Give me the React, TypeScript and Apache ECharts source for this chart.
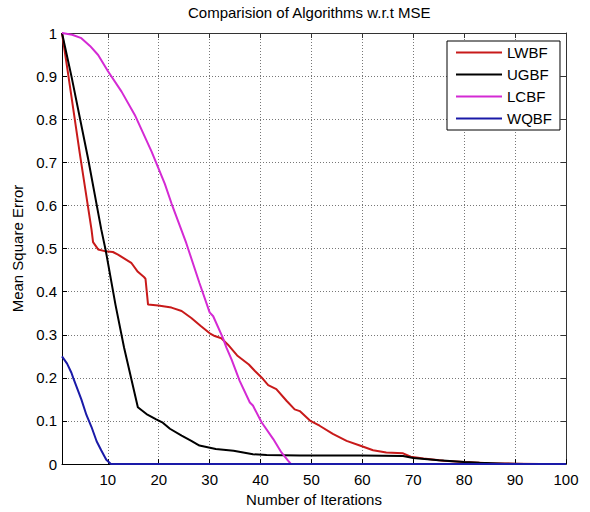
import React, { useEffect, useRef } from "react";
import * as echarts from "echarts";

const titleText = "Comparision of Algorithms w.r.t MSE";
const xName = "Number of Iterations";
const yName = "Mean Square Error";
const seriesNames = ["LWBF", "UGBF", "LCBF", "WQBF"];
const seriesColors = ["#c81a1a", "#000000", "#d42ad4", "#1a1aa8"];

const xMin = 1;
const xMax = 100;
const yMin = 0;
const yMax = 1;

// LWBF (red)
const lwbf: [number, number][] = [
  [1, 1], [2.2, 0.905], [4.5, 0.72], [6.8, 0.544], [7.1, 0.515], [8.1, 0.498],
  [9.4, 0.494], [11, 0.492], [12, 0.486], [14.6, 0.467], [15.9, 0.446], [17.1, 0.434],
  [17.4, 0.43], [17.9, 0.37], [19.9, 0.368], [22.5, 0.363], [24.5, 0.355], [26.4, 0.339],
  [28.2, 0.321], [30.2, 0.302], [31, 0.297], [32.3, 0.292], [33.6, 0.277], [35.4, 0.252],
  [37.7, 0.231], [38.9, 0.216], [40.2, 0.201], [41.5, 0.183], [43.1, 0.174], [45.1, 0.147],
  [46.7, 0.127], [47.7, 0.123], [49.7, 0.101], [51.6, 0.089], [54.2, 0.07], [56.9, 0.054],
  [59.5, 0.043], [62.1, 0.032], [64.7, 0.027], [68, 0.025], [69.5, 0.017], [72, 0.013],
  [76, 0.008], [80, 0.005], [85, 0.002], [90, 0.001], [95, 0], [100, 0],
];

// UGBF (black)
const ugbf: [number, number][] = [
  [1, 1], [2.85, 0.9], [6.1, 0.71], [8.7, 0.545], [9.6, 0.495], [11.5, 0.37],
  [13.2, 0.27], [15.9, 0.132], [17.6, 0.116], [19.5, 0.104], [20.8, 0.096],
  [22.2, 0.082], [24.5, 0.066], [26.4, 0.054], [28, 0.043], [31.2, 0.035],
  [34.7, 0.031], [38.5, 0.023], [41.2, 0.021], [47.7, 0.02], [60, 0.02], [68, 0.019],
  [70, 0.014], [75, 0.009], [80, 0.005], [83, 0.003], [88, 0.001], [92, 0], [100, 0],
];

// LCBF (magenta)
const lcbf: [number, number][] = [
  [1, 1], [3, 0.996], [4.8, 0.988], [6.5, 0.97], [8.1, 0.949], [10, 0.912],
  [12.7, 0.864], [15.3, 0.81], [18.6, 0.725], [21.2, 0.65], [22.5, 0.605],
  [25.4, 0.513], [28, 0.42], [30, 0.352], [30.7, 0.343], [32.6, 0.293], [33.3, 0.27],
  [34.3, 0.243], [35.9, 0.193], [37.9, 0.143], [38.5, 0.136], [40.2, 0.097],
  [42.5, 0.058], [44.1, 0.027], [45.4, 0.008], [46, 0], [100, 0],
];

// WQBF (blue)
const wqbf: [number, number][] = [
  [1, 0.25], [2, 0.233], [2.85, 0.212], [3.2, 0.2], [4.8, 0.15], [5.8, 0.114],
  [6.8, 0.086], [7.8, 0.053], [8.7, 0.032], [9.7, 0.01], [10.6, 0], [100, 0],
];

const seriesData = [lwbf, ugbf, lcbf, wqbf];

const font = "'Liberation Sans', Arial, sans-serif";

export default function App() {
  const ref = useRef<HTMLDivElement>(null);

  useEffect(() => {
    if (!ref.current) return;
    const chart = echarts.init(ref.current, null, { renderer: "svg" });

    const axisLineStyle = { color: "#000", width: 1 };
    const gridLine = { show: true, lineStyle: { type: [1, 2], color: "#777", width: 1 } };

    chart.setOption({
      animation: false,
      backgroundColor: "#fff",
      textStyle: { fontFamily: font, color: "#000" },
      title: {
        text: titleText,
        left: 188,
        top: 0,
        padding: [5, 0],
        textStyle: { fontFamily: font, fontSize: 15, fontWeight: "normal", color: "#000" },
      },
      grid: { left: 62, right: 24, top: 33, bottom: 47, containLabel: false },
      legend: {
        data: seriesNames,
        orient: "vertical",
        left: 447,
        top: 41,
        itemWidth: 46,
        itemHeight: 14,
        itemGap: 7,
        icon: "path://M0,0L46,0L46,2L0,2Z",
        symbolKeepAspect: true,
        padding: [4, 8, 4, 9],
        borderColor: "#000",
        borderWidth: 1,
        backgroundColor: "#fff",
        textStyle: { fontFamily: font, fontSize: 15, color: "#000" },
      },
      xAxis: [
        {
          type: "value",
          min: xMin,
          max: xMax,
          splitNumber: 10,
          position: "bottom",
          name: xName,
          nameLocation: "middle",
          nameGap: 27,
          nameTextStyle: { fontFamily: font, fontSize: 15, color: "#000" },
          axisLine: { show: true, onZero: false, lineStyle: axisLineStyle },
          axisTick: { show: true, inside: true, length: 5, lineStyle: axisLineStyle },
          axisLabel: { showMinLabel: false, color: "#000", fontSize: 15, margin: 8, fontFamily: font },
          splitLine: gridLine,
        },
        {
          type: "value",
          min: xMin,
          max: xMax,
          splitNumber: 10,
          position: "top",
          axisLine: { show: true, onZero: false, lineStyle: { color: "#333", width: 1 } },
          axisTick: { show: true, inside: true, length: 5, lineStyle: { color: "#333" } },
          axisLabel: { show: false },
          splitLine: { show: false },
        },
      ],
      yAxis: [
        {
          type: "value",
          min: yMin,
          max: yMax,
          interval: 0.1,
          position: "left",
          name: yName,
          nameLocation: "middle",
          nameGap: 35,
          nameTextStyle: { fontFamily: font, fontSize: 15, color: "#000" },
          axisLine: { show: true, onZero: false, lineStyle: axisLineStyle },
          axisTick: { show: true, inside: true, length: 5, lineStyle: axisLineStyle },
          axisLabel: { color: "#000", fontSize: 15, margin: 5, fontFamily: font },
          splitLine: gridLine,
        },
        {
          type: "value",
          min: yMin,
          max: yMax,
          interval: 0.1,
          position: "right",
          axisLine: { show: true, onZero: false, lineStyle: { color: "#333", width: 1 } },
          axisTick: { show: true, inside: true, length: 5, lineStyle: { color: "#333" } },
          axisLabel: { show: false },
          splitLine: { show: false },
        },
      ],
      series: seriesNames.map((name, i) => ({
        name,
        type: "line",
        xAxisIndex: 0,
        yAxisIndex: 0,
        data: seriesData[i],
        symbol: "none",
        showSymbol: false,
        smooth: false,
        color: seriesColors[i],
        itemStyle: { color: seriesColors[i] },
        lineStyle: { color: seriesColors[i], width: 2 },
        emphasis: { disabled: true },
      })),
    });

    return () => chart.dispose();
  }, []);

  return (
    <div
      ref={ref}
      style={{ position: "fixed", left: 0, top: 0, width: 590, height: 512, background: "#fff" }}
    />
  );
}
